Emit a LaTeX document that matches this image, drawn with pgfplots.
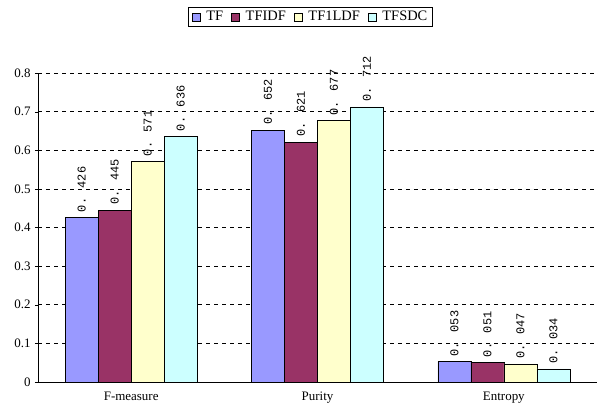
\documentclass[border=0pt]{standalone}
\usepackage{pgfplots}
\pgfplotsset{compat=1.18}
\usepackage{fontspec}
\setmainfont{Liberation Serif}
\newfontfamily\labelfont{Liberation Mono}

\definecolor{cTF}{RGB}{153,153,255}
\definecolor{cTFIDF}{RGB}{153,51,102}
\definecolor{cTFLDF}{RGB}{255,255,204}
\definecolor{cTFSDC}{RGB}{204,255,255}

\begin{document}
\begin{tikzpicture}[x=1bp,y=1bp]
\useasboundingbox (-38,-28) rectangle (562,382);
\begin{axis}[
  at={(0,0)}, anchor=south west,
  scale only axis, width=559bp, height=309bp,
  ybar=0pt, bar width=33bp,
  xmin=-0.5, xmax=2.5, ymin=0, ymax=0.8,
  xtick={0,1,2}, xticklabels={F-measure,Purity,Entropy},
  major x tick style={draw=none},
  extra x ticks={0.5,1.5,2.5}, extra x tick labels={},
  extra x tick style={tick style={draw=black, line width=0.8pt}, major tick length=4bp, tick align=inside, grid=none},
  ytick={0,0.1,...,0.8},
  yticklabel style={/pgf/number format/fixed, /pgf/number format/precision=1},
  /pgf/number format/assume math mode=true,
  ymajorgrids, grid style={black, line width=0.6pt, dash pattern=on 4bp off 4bp},
  ytick style={black}, major tick length=3bp, tick align=outside,
  axis x line*=bottom, axis y line*=left,
  axis line style={black, line width=0.8pt, -},
  ticklabel style={font=\fontsize{13}{15}\selectfont, text=black},
  y tick label style={xshift=-1bp},
  x tick label style={yshift=-3bp},
  every axis plot/.append style={draw=black, line width=0.6pt},
  point meta=explicit symbolic,
  nodes near coords,
  every node near coord/.append style={rotate=90, anchor=west, font=\labelfont\fontsize{12}{14}\selectfont, inner sep=0bp, xshift=5bp},
  legend style={at={(0.4875,1.2136)}, anchor=north, legend columns=-1, draw=black, line width=0.8pt,
    font=\fontsize{14.5}{16}\selectfont, inner xsep=3bp, inner ysep=2bp,
    /tikz/every even column/.append style={column sep=6bp},
    /tikz/every odd column/.append style={column sep=4bp}},
  legend image code/.code={\draw[#1, draw=black, line width=0.6pt] (0bp,-4bp) rectangle (8bp,4bp);},
  clip=false,
]
\addplot[fill=cTF] coordinates {(0,0.426) [0. 426] (1,0.652) [0. 652] (2,0.053) [0. 053]};
\addplot[fill=cTFIDF] coordinates {(0,0.445) [0. 445] (1,0.621) [0. 621] (2,0.051) [0. 051]};
\addplot[fill=cTFLDF] coordinates {(0,0.571) [0. 571] (1,0.677) [0. 677] (2,0.047) [0. 047]};
\addplot[fill=cTFSDC] coordinates {(0,0.636) [0. 636] (1,0.712) [0. 712] (2,0.034) [0. 034]};
\legend{TF,TFIDF,TF1LDF,TFSDC}
\end{axis}
\end{tikzpicture}
\end{document}
